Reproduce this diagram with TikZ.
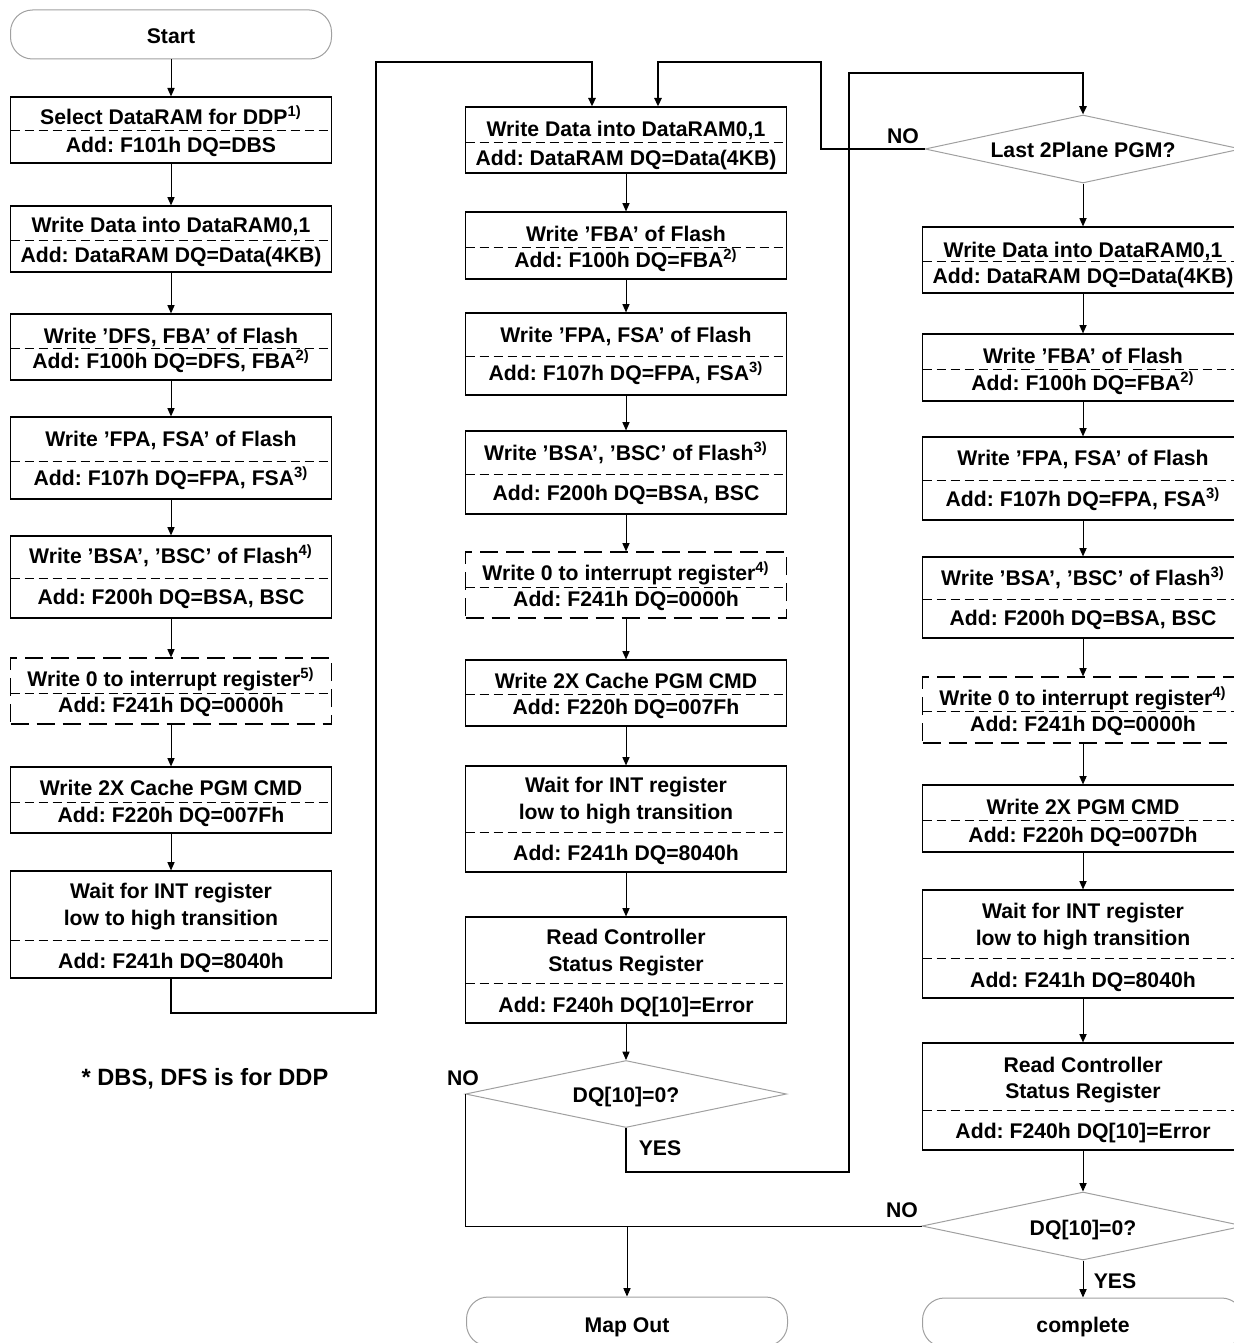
\documentclass[tikz,border=0pt]{standalone}
\usepackage{fontspec}
\setmainfont{Liberation Sans}
\usetikzlibrary{shapes.geometric,arrows.meta}
\definecolor{outl}{HTML}{A0A0A0}
\frenchspacing
\tikzset{
  sbox/.style={draw, line width=0.6pt, minimum width=160.5pt, inner sep=0pt},
  dbox/.style={sbox, dash pattern=on 9pt off 4pt},
  curbox/.style={sbox},
  divider/.style={line width=0.5pt, dash pattern=on 4.5pt off 2.5pt},
  lbl/.style={anchor=base, inner sep=0pt, font=\bfseries\fontsize{10.6}{12.7}\selectfont},
  term/.style={draw=outl, line width=0.5pt, rounded corners=11pt, minimum width=160.5pt, minimum height=24.5pt, inner sep=0pt},
  dec/.style={draw=outl, diamond, line width=0.5pt, inner sep=0pt},
  arr/.style={line width=0.5pt, -{Triangle[length=4.2pt,width=3.6pt]}},
  loopline/.style={line width=1pt},
  thinline/.style={line width=0.5pt},
}
% name, cx, top, bottom, divider, top-text cap centre, bottom-text cap centre, text1, text2
\newcommand{\pbox}[9]{%
  \pgfmathsetmacro{\pbH}{((#4)-(#3))*0.5}%
  \pgfmathsetmacro{\pbC}{((#4)+(#3))/2}%
  \node[curbox, minimum height=\pbH pt] (#1) at (#2,\pbC) {};
  \draw[divider] ({#2-160.5},#5) -- ({#2+160.5},#5);
  \node[lbl] (#1t) at (#2,{#6+7.5}) {#8};
  \node[lbl] (#1b) at (#2,{#7+7.5}) {#9};
}
\begin{document}
\begin{tikzpicture}[x=0.5pt,y=-0.5pt]
\useasboundingbox (0,0) rectangle (1234,1343);
\clip (0,0) rectangle (1234,1343);

% ---------------- left column ----------------
\node[term] (L0) at (171,34.5) {};
\node[lbl] (L0t) at (171,43.5) {Start};
\pbox{L1}{171}{97}{163}{131}{117}{145}{Select DataRAM for DDP\textsuperscript{1)}}{Add: F101h DQ=DBS}
\pbox{L2}{171}{206}{272}{240}{225}{255}{Write Data into DataRAM0,1}{Add: DataRAM DQ=Data(4KB)}
\pbox{L3}{171}{314}{380}{348}{336}{361}{Write ’DFS, FBA’ of Flash}{Add: F100h DQ=DFS, FBA\textsuperscript{2)}}
\pbox{L4}{171}{417}{499}{461}{439}{478}{Write ’FPA, FSA’ of Flash}{Add: F107h DQ=FPA, FSA\textsuperscript{3)}}
\pbox{L5}{171}{536}{618}{578}{556}{597}{Write ’BSA’, ’BSC’ of Flash\textsuperscript{4)}}{Add: F200h DQ=BSA, BSC}
\tikzset{curbox/.style={dbox}}
\pbox{L6}{171}{658}{724}{693}{679}{705}{Write 0 to interrupt register\textsuperscript{5)}}{Add: F241h DQ=0000h}
\tikzset{curbox/.style={sbox}}
\pbox{L7}{171}{767}{833}{802}{788}{815}{Write 2X Cache PGM CMD}{Add: F220h DQ=007Fh}
\pbox{L8}{171}{871}{978}{940}{891}{961}{Wait for INT register}{Add: F241h DQ=8040h}
\node[lbl] (L8t2) at (171,925.5) {low to high transition};
\node[lbl, font=\bfseries\fontsize{11.8}{14}\selectfont] (note) at (205,1085.5) {* DBS, DFS is for DDP};

\foreach \a/\b in {L0/L1,L1/L2,L2/L3,L3/L4,L4/L5,L5/L6,L6/L7,L7/L8}
  \draw[arr] (\a) -- (\b);

% ---------------- middle column ----------------
\pbox{M1}{626}{107}{173}{142}{128.5}{157.5}{Write Data into DataRAM0,1}{Add: DataRAM DQ=Data(4KB)}
\pbox{M2}{626}{212}{279}{247}{234}{260}{Write ’FBA’ of Flash}{Add: F100h DQ=FBA\textsuperscript{2)}}
\pbox{M3}{626}{313}{395}{356}{334.5}{372.5}{Write ’FPA, FSA’ of Flash}{Add: F107h DQ=FPA, FSA\textsuperscript{3)}}
\pbox{M4}{626}{431}{514}{474}{452.5}{492.5}{Write ’BSA’, ’BSC’ of Flash\textsuperscript{3)}}{Add: F200h DQ=BSA, BSC}
\tikzset{curbox/.style={dbox}}
\pbox{M5}{626}{552}{618}{587}{572.5}{599}{Write 0 to interrupt register\textsuperscript{4)}}{Add: F241h DQ=0000h}
\tikzset{curbox/.style={sbox}}
\pbox{M6}{626}{660}{726}{694}{680.5}{706.5}{Write 2X Cache PGM CMD}{Add: F220h DQ=007Fh}
\pbox{M7}{626}{766}{872}{832}{785}{852.5}{Wait for INT register}{Add: F241h DQ=8040h}
\node[lbl] (M7t2) at (626,819) {low to high transition};
\pbox{M8}{626}{917}{1023}{983}{937}{1004.5}{Read Controller}{Add: F240h DQ[10]=Error}
\node[lbl] (M8t2) at (626,971.5) {Status Register};
\node[dec, minimum width=160.5pt, minimum height=33.5pt] (MD) at (626,1094) {};
\node[lbl] (MDt) at (626,1102.5) {DQ[10]=0?};
\node[lbl] (MDno) at (463,1085.5) {NO};
\node[lbl] (MDyes) at (660,1155.5) {YES};
\node[term] (MO) at (627,1321.5) {};
\node[lbl] (MOt) at (627,1332) {Map Out};

\foreach \a/\b in {M1/M2,M2/M3,M3/M4,M4/M5,M5/M6,M6/M7,M7/M8,M8/MD}
  \draw[arr] (\a) -- (\b);

% ---------------- right column ----------------
\node[dec, minimum width=158pt, minimum height=34pt] (RD1) at (1083,149) {};
\node[lbl] (RD1t) at (1083,157) {Last 2Plane PGM?};
\node[lbl] (RD1no) at (903,143.5) {NO};
\pbox{R1}{1083}{227}{293}{261}{250}{275.5}{Write Data into DataRAM0,1}{Add: DataRAM DQ=Data(4KB)}
\pbox{R2}{1083}{334}{401}{369}{355.5}{382.5}{Write ’FBA’ of Flash}{Add: F100h DQ=FBA\textsuperscript{2)}}
\pbox{R3}{1083}{437}{520}{480}{457.5}{498.5}{Write ’FPA, FSA’ of Flash}{Add: F107h DQ=FPA, FSA\textsuperscript{3)}}
\pbox{R4}{1083}{557}{638}{599}{577.5}{617.5}{Write ’BSA’, ’BSC’ of Flash\textsuperscript{3)}}{Add: F200h DQ=BSA, BSC}
\tikzset{curbox/.style={dbox}}
\pbox{R5}{1083}{677}{743}{711}{697.5}{724}{Write 0 to interrupt register\textsuperscript{4)}}{Add: F241h DQ=0000h}
\tikzset{curbox/.style={sbox}}
\pbox{R6}{1083}{785}{852}{820}{807}{834.5}{Write 2X PGM CMD}{Add: F220h DQ=007Dh}
\pbox{R7}{1083}{890}{998}{958}{910.5}{979.5}{Wait for INT register}{Add: F241h DQ=8040h}
\node[lbl] (R7t2) at (1083,945) {low to high transition};
\pbox{R8}{1083}{1043}{1150}{1110}{1064.5}{1130.5}{Read Controller}{Add: F240h DQ[10]=Error}
\node[lbl] (R8t2) at (1083,1098) {Status Register};
\node[dec, minimum width=161pt, minimum height=34pt] (RD2) at (1083,1226) {};
\node[lbl] (RD2t) at (1083,1235) {DQ[10]=0?};
\node[lbl] (RD2no) at (902,1217.5) {NO};
\node[lbl] (RD2yes) at (1115,1288) {YES};
\node[term] (CO) at (1083,1322.5) {};
\node[lbl] (COt) at (1083,1332) {complete};

\foreach \a/\b in {RD1/R1,R1/R2,R2/R3,R3/R4,R4/R5,R5/R6,R6/R7,R7/R8,R8/RD2,RD2/CO}
  \draw[arr] (\a) -- (\b);

% ---------------- loop connectors ----------------
\coordinate (j1) at (376,1013);
\coordinate (j2) at (592,62);
\draw[arr, loopline] (L8.south) |- (j1) |- (j2) -- (j2 |- M1.north);

\coordinate (j3) at (849,1172);
\coordinate (j4) at (1083,73);
\draw[arr, loopline] (MD.south) |- (j3) |- (j4) -- (RD1.north);

\coordinate (j5) at (821,62);
\coordinate (j6) at (658,62);
\draw[arr, loopline] (RD1.west) -| (j5) -- (j6) -- (j6 |- M1.north);

\draw[thinline] (MD.west) |- (RD2.west);
\draw[arr] (MO.north |- RD2.west) -- (MO.north);
\end{tikzpicture}
\end{document}
